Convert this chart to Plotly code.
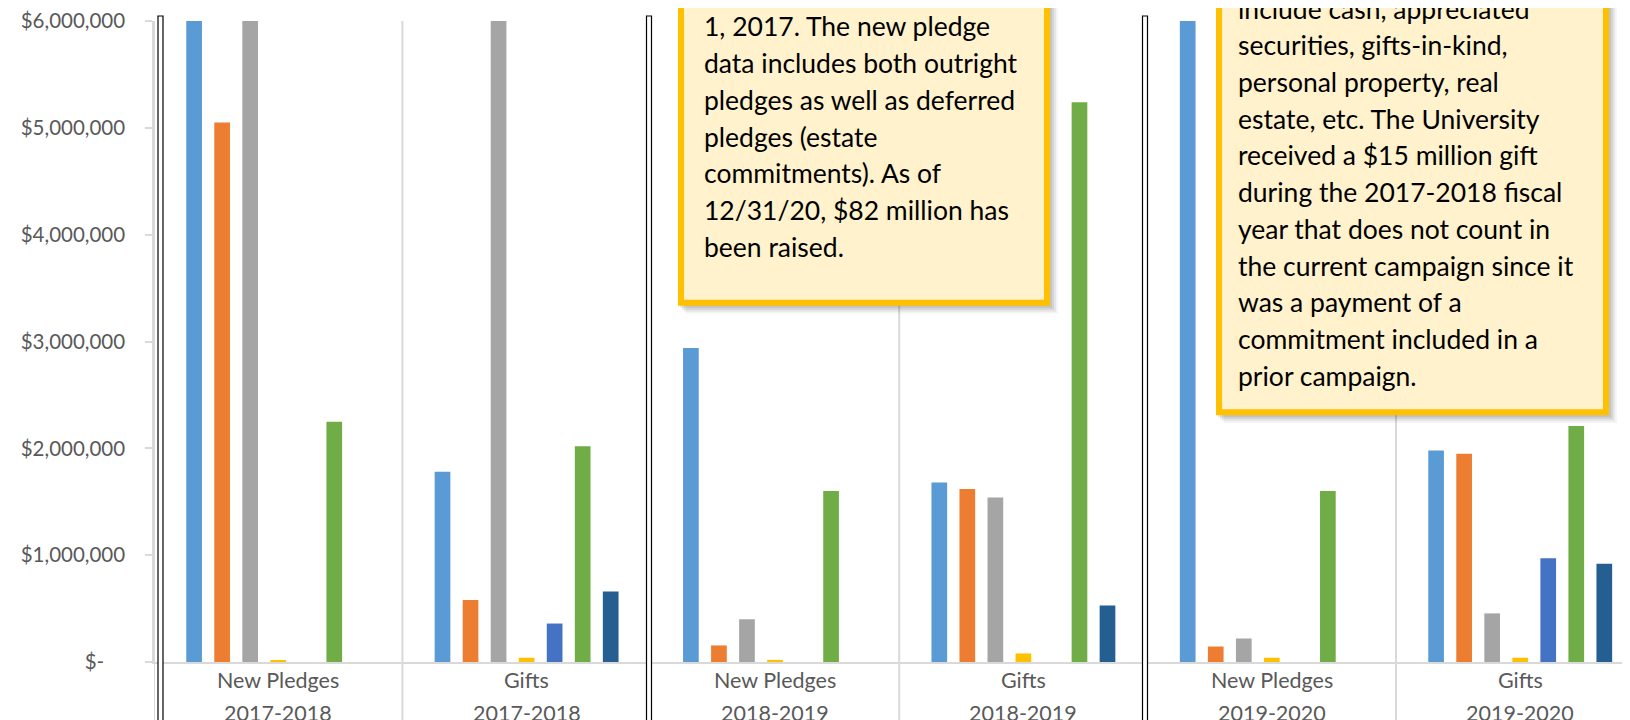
import plotly.graph_objects as go

# categories: pledge / gift type per fiscal year
kinds = ["New Pledges", "Gifts", "New Pledges", "Gifts", "New Pledges", "Gifts"]
years = ["2017-2018", "2017-2018", "2018-2019", "2018-2019", "2019-2020", "2019-2020"]

# seven donor series (values in dollars, tall bars run past the $6M axis max)
series_1 = [6500000, 1780000, 2940000, 1680000, 6500000, 1980000]
series_2 = [5050000, 580000, 155000, 1620000, 145000, 1950000]
series_3 = [6500000, 6500000, 400000, 1540000, 220000, 455000]
series_4 = [12000, 40000, 20000, 80000, 40000, 40000]
series_5 = [0, 360000, 0, 0, 0, 970000]
series_6 = [2250000, 2020000, 1600000, 5240000, 1600000, 2210000]
series_7 = [0, 660000, 0, 530000, 0, 920000]

series_names = ["Series 1", "Series 2", "Series 3", "Series 4",
                "Series 5", "Series 6", "Series 7"]
series_values = [series_1, series_2, series_3, series_4,
                 series_5, series_6, series_7]
colors = ["#5B9BD5", "#ED7D31", "#A5A5A5", "#FFC000",
          "#4472C4", "#70AD47", "#255E91"]

ytick_vals = [0, 1000000, 2000000, 3000000, 4000000, 5000000, 6000000]
ytick_text = ["$-\u00a0\u00a0\u00a0\u00a0", "$1,000,000", "$2,000,000",
              "$3,000,000", "$4,000,000", "$5,000,000", "$6,000,000"]

note_pledges = [
    "1, 2017. The new pledge",
    "data includes both outright",
    "pledges as well as deferred",
    "pledges (estate",
    "commitments). As of",
    "12/31/20, $82 million has",
    "been raised.",
]
note_gifts = [
    "include cash, appreciated",
    "securities, gifts-in-kind,",
    "personal property, real",
    "estate, etc. The University",
    "received a $15 million gift",
    "during the 2017-2018 fiscal",
    "year that does not count in",
    "the current campaign since it",
    "was a payment of a",
    "commitment included in a",
    "prior campaign.",
]

keys = [f"{k} {y}" for k, y in zip(kinds, years)]

# layout geometry, in screen pixels (page body adds an 8px offset)
OFF = 8
W, H = 1630 - OFF, 720 - OFF
ML, MT = 154 - OFF, 18 - OFF
ZERO_Y = 662
MR = 0
MB = H - (ZERO_Y - OFF)
PW, PH = W - ML - MR, H - MT - MB
CAT_W = 248.4


def px_x(x):
    return (x - OFF - ML) / PW


def px_y(y):
    return (ZERO_Y - y) / PH


fig = go.Figure()

for name, vals, col in zip(series_names, series_values, colors):
    fig.add_trace(go.Bar(x=keys, y=vals, name=name,
                         marker=dict(color=col, line=dict(width=0))))

font_y = dict(family="Lato", size=20.5, color="#595959")
font_x = dict(family="Lato", size=21.5, color="#595959")

fig.update_layout(
    width=W, height=H,
    margin=dict(l=ML, r=MR, t=MT, b=MB, pad=0),
    paper_bgcolor="white", plot_bgcolor="white",
    barmode="group", bargap=0.21, bargroupgap=0.44,
    showlegend=False,
    xaxis=dict(type="category", range=[-0.5, PW / CAT_W - 0.5],
               showticklabels=False, ticks="", showgrid=False,
               showline=True, linecolor="#D9D9D9", linewidth=2,
               zeroline=False),
    yaxis=dict(range=[0, 6000000], tickvals=ytick_vals, ticktext=ytick_text,
               tickfont=font_y, showgrid=False, zeroline=False,
               showline=True, linecolor="#D9D9D9", linewidth=1.5,
               ticks="outside", ticklen=7, tickcolor="#D9D9D9", tickwidth=1.5,
               ticklabelstandoff=16, ticklabeloverflow="allow"),
)

# category labels, two rows
for k, kind, yr in zip(keys, kinds, years):
    fig.add_annotation(x=k, y=px_y(680), xref="x", yref="paper", text=kind,
                       showarrow=False, font=font_x, yanchor="middle")
    fig.add_annotation(x=k, y=px_y(713), xref="x", yref="paper", text=yr,
                       showarrow=False, font=font_x, yanchor="middle")

# light dividers between categories, running through the label area
for xv in [-0.5, 0.5, 2.5, 4.5]:
    fig.add_shape(type="line", xref="x", yref="paper", x0=xv, x1=xv,
                  y0=1, y1=px_y(730), line=dict(color="#D9D9D9", width=2),
                  layer="above")

# double black separators between fiscal years
for cx in [160.5, 649, 1145]:
    fig.add_shape(type="rect", xref="paper", yref="paper",
                  x0=px_x(cx - 2.5), x1=px_x(cx + 2.5),
                  y0=px_y(730), y1=px_y(13),
                  line=dict(color="black", width=1.2), fillcolor="white",
                  layer="above")

# note boxes with soft shadow
for (x0, x1, y0) in [(681, 1047, 301), (1219, 1606, 411)]:
    for off, a in [(8, 0.04), (6, 0.06), (4, 0.08), (2, 0.08)]:
        fig.add_shape(type="rect", xref="paper", yref="paper",
                      x0=px_x(x0 - 3 + off), x1=px_x(x1 + 3 + off),
                      y0=px_y(y0 + 3 + off), y1=px_y(-30),
                      line=dict(width=0), fillcolor=f"rgba(0,0,0,{a})",
                      layer="above")
    fig.add_shape(type="rect", xref="paper", yref="paper",
                  x0=px_x(x0), x1=px_x(x1), y0=px_y(y0), y1=px_y(-30),
                  line=dict(color="#FFC000", width=6), fillcolor="#FFF2CC",
                  layer="above")

# note text, one annotation per line so spacing follows the original
font_note = dict(family="Lato", size=26.5, color="#000000")
for i, line in enumerate(note_pledges):
    fig.add_annotation(x=px_x(702), y=px_y(23.5 + i * 36.9),
                       xref="paper", yref="paper", text=line,
                       xanchor="left", yanchor="middle", showarrow=False,
                       font=font_note)
for i, line in enumerate(note_gifts):
    fig.add_annotation(x=px_x(1236), y=px_y(5.5 + i * 36.9),
                       xref="paper", yref="paper", text=line,
                       xanchor="left", yanchor="middle", showarrow=False,
                       font=font_note)

fig.write_html("out.html")
